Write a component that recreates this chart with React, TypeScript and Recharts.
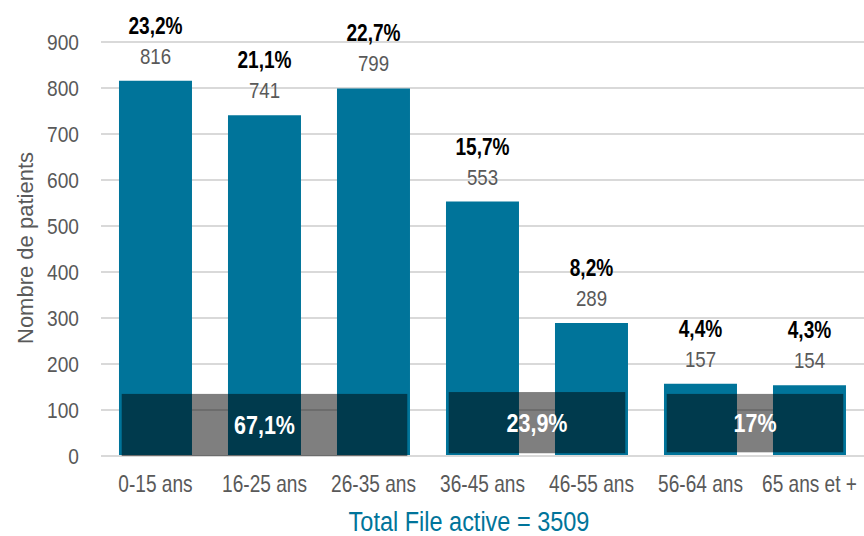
import React from 'react';
import { BarChart, Bar, XAxis, YAxis, CartesianGrid, LabelList, ReferenceArea } from 'recharts';

const categories = ['0-15 ans', '16-25 ans', '26-35 ans', '36-45 ans', '46-55 ans', '56-64 ans', '65 ans et +'];
const patients = [816, 741, 799, 553, 289, 157, 154];
const shares = ['23,2%', '21,1%', '22,7%', '15,7%', '8,2%', '4,4%', '4,3%'];
const yTicks = [0, 100, 200, 300, 400, 500, 600, 700, 800, 900];

const groupLabels = ['67,1%', '23,9%', '17%'];
const groupStart = ['0-15 ans', '36-45 ans', '56-64 ans'];
const groupEnd = ['26-35 ans', '46-55 ans', '65 ans et +'];
const groupSize = [3, 2, 2];
const groupLow = [0, 6, 8];
const groupHigh = [135, 139, 135];

const yTitle = 'Nombre de patients';
const totalLabel = 'Total File active = 3509';

const FONT = "'Liberation Sans', Arial, sans-serif";
const TEAL = '#00749A';
const GREY = '#595959';
const NARROW = 0.83;

const data = categories.map((c, i) => ({ cat: c, value: patients[i] }));

const CondText = (props: any) => {
  const { x, y, children, sx = NARROW, ...rest } = props;
  return (
    <text transform={`translate(${x},${y}) scale(${sx},1)`} x={0} y={0} fontFamily={FONT} {...rest}>
      {children}
    </text>
  );
};

const TopLabel = (props: any) => {
  const { x, y, width, index } = props;
  const cx = x + width / 2;
  return (
    <g>
      <CondText x={cx} y={y - 17} textAnchor="middle" fill={GREY} fontSize={22.5}>
        {patients[index]}
      </CondText>
      <CondText x={cx} y={y - 47} textAnchor="middle" fill="#000" fontSize={23} fontWeight="bold">
        {shares[index]}
      </CondText>
    </g>
  );
};

const XTick = (props: any) => {
  const { x, y, payload } = props;
  return (
    <CondText x={x} y={y} dy="0.71em" textAnchor="middle" fill={GREY} fontSize={23}>
      {payload.value}
    </CondText>
  );
};

const YTick = (props: any) => {
  const { x, y, payload } = props;
  return (
    <CondText x={x} y={y} dy="0.355em" textAnchor="end" fill={GREY} fontSize={22.5} sx={0.85}>
      {payload.value}
    </CondText>
  );
};

const makeShape = (n: number, label: string) => (props: any) => {
  const { x, y, width, height } = props;
  const bw = width / n;
  const inset = bw * 0.19;
  return (
    <g>
      <rect x={x + inset} y={y} width={width - 2 * inset} height={height} fill="#000" fillOpacity={0.5} />
      <CondText
        x={x + width / 2}
        y={y + height / 2}
        dy="0.36em"
        textAnchor="middle"
        fill="#fff"
        fontSize={25}
        fontWeight="bold"
        sx={0.86}
      >
        {label}
      </CondText>
    </g>
  );
};

export default function App() {
  return (
    <div style={{ position: 'absolute', left: 0, top: 0, width: 864, height: 536, background: '#fff' }}>
      <BarChart
        width={864}
        height={536}
        data={data}
        margin={{ top: 42, right: 0, bottom: 50, left: 0 }}
        barCategoryGap="16.5%"
      >
        <CartesianGrid vertical={false} stroke="#d9d9d9" strokeWidth={2} />
        <XAxis
          dataKey="cat"
          height={30}
          tickLine={false}
          axisLine={{ stroke: '#d9d9d9', strokeWidth: 2 }}
          tickSize={0}
          tickMargin={20}
          tick={XTick}
          interval={0}
        />
        <YAxis
          width={101}
          domain={[0, 900]}
          ticks={yTicks}
          tickLine={false}
          axisLine={false}
          tickSize={0}
          tickMargin={22}
          tick={YTick}
        />
        <Bar dataKey="value" fill={TEAL} isAnimationActive={false}>
          <LabelList dataKey="value" content={TopLabel} />
        </Bar>
        {groupLabels.map((g, i) => (
          <ReferenceArea
            key={g}
            x1={groupStart[i]}
            x2={groupEnd[i]}
            y1={groupLow[i]}
            y2={groupHigh[i]}
            shape={makeShape(groupSize[i], g)}
            ifOverflow="visible"
            zIndex={1500}
          />
        ))}
        <text
          transform="translate(25,248) rotate(-90)"
          x={0}
          y={0}
          dy="0.35em"
          textAnchor="middle"
          fill={GREY}
          fontSize={22}
          fontFamily={FONT}
        >
          {yTitle}
        </text>
        <CondText x={469} y={531} textAnchor="middle" fill={TEAL} fontSize={27} sx={0.87}>
          {totalLabel}
        </CondText>
      </BarChart>
    </div>
  );
}
